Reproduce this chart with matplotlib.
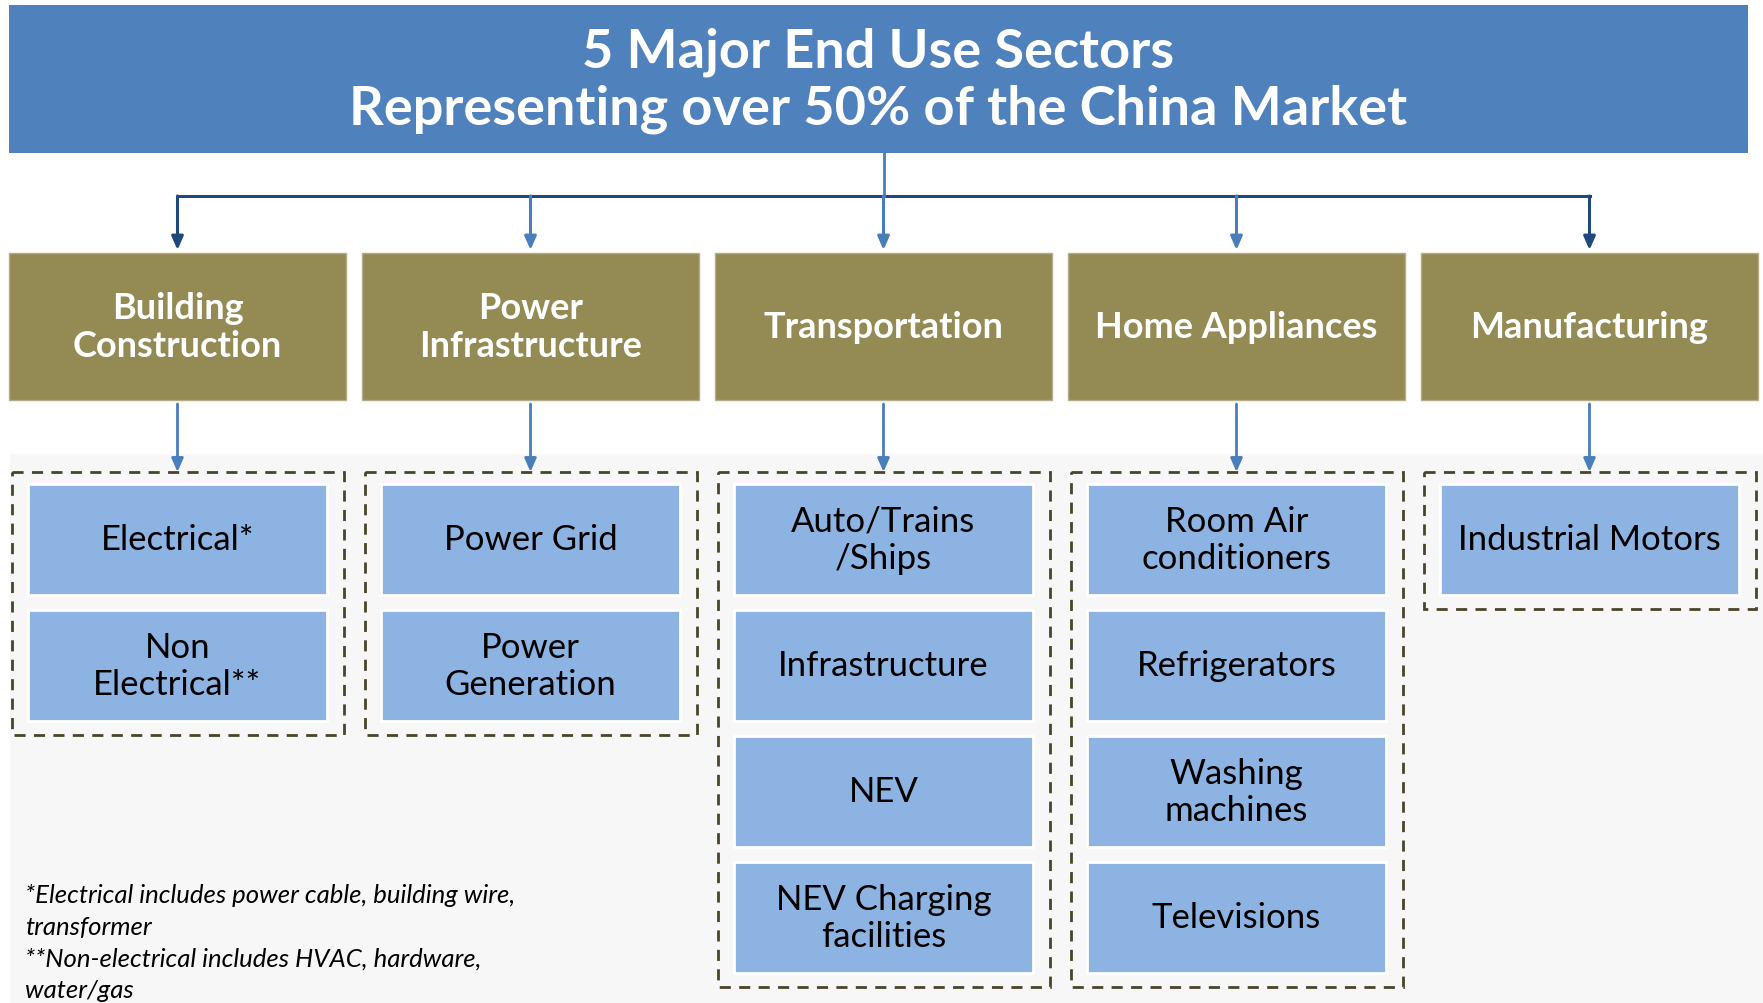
import matplotlib
matplotlib.use('Agg')
import matplotlib.pyplot as plt
import matplotlib.patches as patches

plt.rcParams['font.family'] = ['Lato', 'DejaVu Sans']

# Chart content
title_lines = ['5 Major End Use Sectors', 'Representing over 50% of the China Market']
sectors = ['Building\nConstruction', 'Power\nInfrastructure', 'Transportation',
           'Home Appliances', 'Manufacturing']
sub_items = [
    ['Electrical*', 'Non\nElectrical**'],
    ['Power Grid', 'Power\nGeneration'],
    ['Auto/Trains\n/Ships', 'Infrastructure', 'NEV', 'NEV Charging\nfacilities'],
    ['Room Air\nconditioners', 'Refrigerators', 'Washing\nmachines', 'Televisions'],
    ['Industrial Motors'],
]
footnotes = ['*Electrical includes power cable, building wire,', 'transformer',
             '**Non-electrical includes HVAC, hardware,', 'water/gas']

# Colours
header_c = '#4f81bd'
sector_c = '#948a54'
sub_c = '#8db3e2'
dash_c = '#4a452a'
dark_arrow = '#1f497d'
light_arrow = '#4a7ebb'

W, H = 1763, 1004
fig = plt.figure(figsize=(W / 100, H / 100), dpi=100)
ax = fig.add_axes([0, 0, 1, 1])
ax.set_xlim(0, W)
ax.set_ylim(H, 0)
ax.axis('off')

# light panel behind the sub-groups
ax.add_patch(patches.Rectangle((10, 455), W - 10, H - 455, fc='#f7f7f7', ec='none', zorder=0))

# header
ax.add_patch(patches.Rectangle((9, 6), 1739, 148, fc=header_c, ec='none'))
ax.text(878, 52, title_lines[0], color='white', fontsize=39, fontweight='bold',
        ha='center', va='center')
ax.text(878, 109, title_lines[1], color='white', fontsize=39, fontweight='bold',
        ha='center', va='center')

col_x0 = 9
col_pitch = 353
col_w = 337
sec_top, sec_h = 254, 147
sub_top, sub_h, sub_pitch = 485, 111, 126

centers = [col_x0 + i * col_pitch + col_w / 2 for i in range(len(sectors))]

# connector from header to sectors
conn_y = 197
ax.plot([centers[0], centers[-1]], [conn_y, conn_y], color=dark_arrow, lw=2.2, zorder=2)
ax.plot([centers[2], centers[2]], [154, conn_y], color=light_arrow, lw=2, zorder=2)
for i, cx in enumerate(centers):
    c = dark_arrow if i in (0, len(centers) - 1) else light_arrow
    ax.annotate('', xy=(cx, sec_top - 3), xytext=(cx, conn_y),
                arrowprops=dict(arrowstyle='-|>,head_width=0.35,head_length=0.8',
                                color=c, lw=2.2, shrinkA=0, shrinkB=0))

for i, (name, subs) in enumerate(zip(sectors, sub_items)):
    x0 = col_x0 + i * col_pitch
    cx = centers[i]
    ax.add_patch(patches.Rectangle((x0, sec_top), col_w, sec_h, fc=sector_c, ec='#b5ad85', lw=1))
    ax.text(cx, sec_top + sec_h / 2, name, color='white', fontsize=26, fontweight='bold',
            ha='center', va='center', linespacing=1.2)

    # arrow to group
    ax.annotate('', xy=(cx, 473), xytext=(cx, sec_top + sec_h + 4),
                arrowprops=dict(arrowstyle='-|>,head_width=0.35,head_length=0.8',
                                color=light_arrow, lw=2, shrinkA=0, shrinkB=0))

    n = len(subs)
    bottom = sub_top + (n - 1) * sub_pitch + sub_h + 14
    ax.add_patch(patches.Rectangle((x0 + 3, 473), col_w - 5, bottom - 473, fc='none',
                                   ec=dash_c, lw=2, ls=(0, (4, 3)), zorder=3))
    for j, s in enumerate(subs):
        y = sub_top + j * sub_pitch
        ax.add_patch(patches.Rectangle((x0 + 19, y), col_w - 38, sub_h, fc=sub_c,
                                       ec='white', lw=2, zorder=4))
        ax.text(cx, y + sub_h / 2, s, color='black', fontsize=25, ha='center',
                va='center', linespacing=1.22, zorder=5)

for k, line in enumerate(footnotes):
    ax.text(25, 896 + k * 31.5, line, fontsize=18.5, style='italic', color='black',
            ha='left', va='center')

fig.savefig('out.png', dpi=100)
